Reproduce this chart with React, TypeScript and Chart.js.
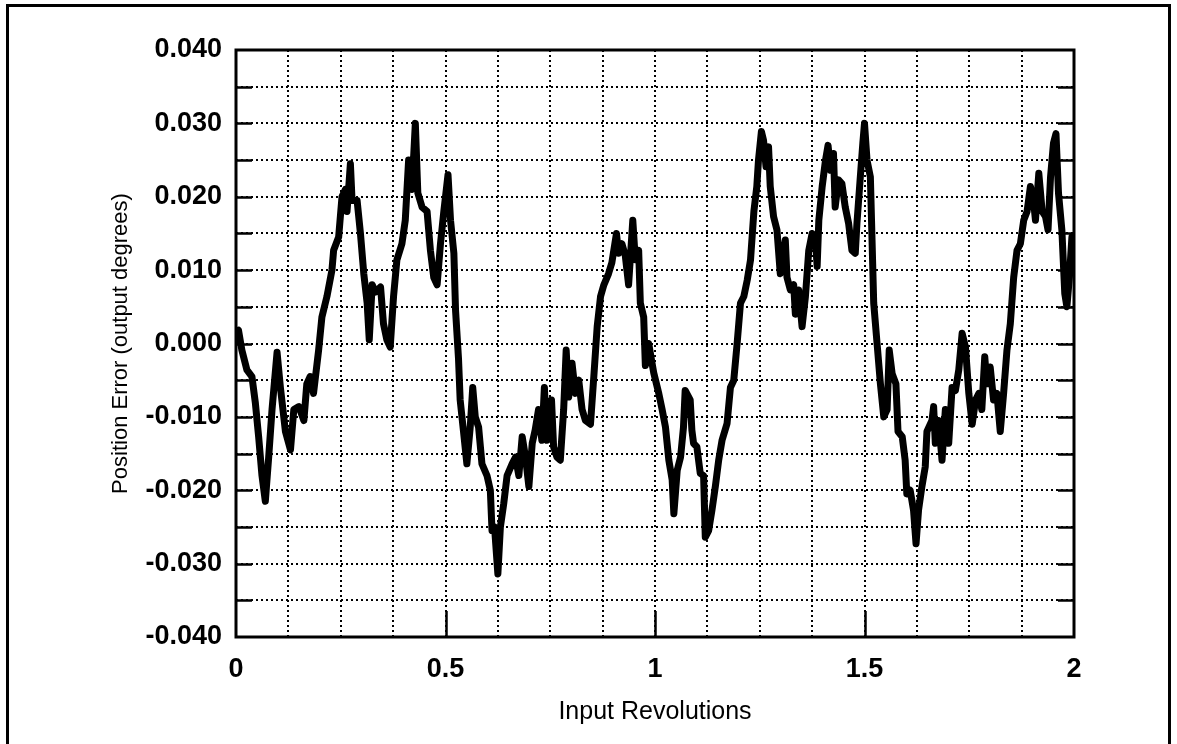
import { useEffect, useRef } from 'react';
import { Chart, registerables } from 'chart.js';

Chart.register(...registerables);

// Input revolutions (x) and position error in output degrees (y)
const revolutions = [
  0.000, 0.006, 0.014, 0.026, 0.038, 0.046, 0.054, 0.062, 0.070, 0.078,
  0.086, 0.098, 0.106, 0.118, 0.130, 0.138, 0.150, 0.162, 0.169, 0.177,
  0.185, 0.197, 0.205, 0.217, 0.229, 0.233, 0.245, 0.253, 0.261, 0.265,
  0.273, 0.277, 0.289, 0.297, 0.305, 0.313, 0.318, 0.325, 0.333,
  0.345, 0.352, 0.360, 0.368, 0.376, 0.384, 0.396, 0.404, 0.412, 0.420,
  0.428, 0.434, 0.444, 0.456, 0.464, 0.472, 0.480, 0.488, 0.496, 0.506,
  0.512, 0.520, 0.524, 0.531, 0.535, 0.543, 0.551, 0.559, 0.565, 0.571,
  0.579, 0.587, 0.599, 0.607, 0.611, 0.617, 0.625, 0.631, 0.639, 0.647,
  0.659, 0.667,
  0.675, 0.683, 0.691, 0.699, 0.707, 0.714, 0.722, 0.730, 0.736, 0.742,
  0.753, 0.758, 0.766, 0.774, 0.782, 0.788, 0.794, 0.802, 0.810, 0.818,
  0.826, 0.834, 0.846, 0.854, 0.862, 0.870, 0.878, 0.889, 0.897, 0.908,
  0.913, 0.921, 0.929, 0.937, 0.947, 0.953, 0.961, 0.965, 0.973, 0.977,
  0.985, 0.993, 0.997,
  1.009, 1.017, 1.025, 1.033, 1.041, 1.045, 1.053, 1.061, 1.068, 1.072,
  1.084, 1.088, 1.092, 1.100, 1.108, 1.116, 1.120, 1.128, 1.136, 1.144,
  1.152, 1.160, 1.172, 1.180, 1.188, 1.196, 1.204, 1.212, 1.220, 1.228,
  1.236, 1.243, 1.247, 1.254, 1.259, 1.265, 1.271, 1.275, 1.283, 1.291,
  1.299, 1.311, 1.315, 1.323, 1.331,
  1.335, 1.343, 1.351, 1.359, 1.367, 1.375, 1.383, 1.387, 1.391, 1.399,
  1.407, 1.413, 1.419, 1.426, 1.430, 1.438, 1.446, 1.454, 1.462, 1.470,
  1.478, 1.482, 1.490, 1.496, 1.500, 1.506, 1.514, 1.522, 1.530, 1.538,
  1.546, 1.554, 1.559, 1.566, 1.575, 1.580, 1.590, 1.597, 1.601, 1.609,
  1.617, 1.623, 1.629, 1.637, 1.645, 1.649, 1.661,
  1.665, 1.669, 1.677, 1.685, 1.693, 1.701, 1.709, 1.717, 1.725, 1.733,
  1.741, 1.749, 1.757, 1.765, 1.773, 1.780, 1.787, 1.792, 1.800, 1.808,
  1.816, 1.824, 1.832, 1.840, 1.848, 1.856, 1.864, 1.872, 1.880, 1.888,
  1.896, 1.904, 1.908, 1.916, 1.924, 1.932, 1.938, 1.944, 1.951, 1.957,
  1.963, 1.971, 1.978, 1.983, 1.989, 1.995, 2.000,
];

const positionError = [
  0.0015, 0.0018, -0.0009, -0.0036, -0.0045, -0.008, -0.0127, -0.018, -0.0215, -0.0155,
  -0.009, -0.0012, -0.006, -0.012, -0.0145, -0.009, -0.0086, -0.0105, -0.0055, -0.0045,
  -0.0068, -0.001, 0.0036, 0.0064, 0.010, 0.0127, 0.0145, 0.020, 0.021, 0.018,
  0.0245, 0.0195, 0.0195, 0.015, 0.0095, 0.0055, 0.0005, 0.008, 0.007,
  0.0077, 0.0027, 0.0005, -0.0005, 0.0064, 0.0114, 0.0136, 0.0168, 0.025, 0.021,
  0.030, 0.0205, 0.0186, 0.018, 0.0127, 0.009, 0.008, 0.0136, 0.018, 0.023,
  0.0168, 0.0123, 0.0045, -0.002, -0.0077, -0.012, -0.0164, -0.0114, -0.006, -0.010,
  -0.0114, -0.0164, -0.018, -0.020, -0.0255, -0.025, -0.0314, -0.025, -0.0218, -0.018,
  -0.0164, -0.0155,
  -0.018, -0.0127, -0.0155, -0.0195, -0.0136, -0.0118, -0.009, -0.0132, -0.006, -0.0132,
  -0.0077, -0.0141, -0.0155, -0.0159, -0.009, -0.0009, -0.0073, -0.0027, -0.0068, -0.005,
  -0.009, -0.0105, -0.011, -0.0045, 0.0023, 0.0064, 0.008, 0.0095, 0.011, 0.015,
  0.0123, 0.0136, 0.012, 0.008, 0.0168, 0.0114, 0.0127, 0.0055, 0.0036, -0.003,
  0.000, -0.0027, -0.004,
  -0.0068, -0.009, -0.0114, -0.0159, -0.0186, -0.0232, -0.0173, -0.0155, -0.0114, -0.0064,
  -0.0077, -0.0118, -0.0136, -0.0141, -0.0177, -0.018, -0.0264, -0.0255, -0.0227, -0.0195,
  -0.0159, -0.0132, -0.0109, -0.006, -0.005, 0.000, 0.0055, 0.0064, 0.0086, 0.0114,
  0.018, 0.0214, 0.025, 0.0289, 0.0277, 0.0241, 0.0268, 0.0214, 0.0173, 0.0155,
  0.0095, 0.0141, 0.009, 0.0073, 0.008,
  0.004, 0.0073, 0.0023, 0.0064, 0.0127, 0.015, 0.0141, 0.0105, 0.0168, 0.0214,
  0.025, 0.027, 0.0236, 0.0259, 0.0186, 0.0223, 0.0218, 0.0186, 0.0164, 0.0127,
  0.0123, 0.0164, 0.0227, 0.0273, 0.030, 0.025, 0.0227, 0.0055, 0.000, -0.0055,
  -0.010, -0.009, -0.0009, -0.0041, -0.0055, -0.012, -0.0127, -0.0159, -0.0205, -0.020,
  -0.0227, -0.0273, -0.0227, -0.0195, -0.0168, -0.012, -0.0105,
  -0.0086, -0.0136, -0.0105, -0.0159, -0.009, -0.0136, -0.006, -0.0064, -0.0036, 0.0014,
  -0.0005, -0.0068, -0.011, -0.0077, -0.0068, -0.009, -0.0018, -0.0055, -0.0032, -0.0077,
  -0.0068, -0.012, -0.0068, -0.0009, 0.0027, 0.009, 0.0127, 0.0136, 0.0168, 0.018,
  0.0214, 0.0191, 0.0168, 0.0232, 0.018, 0.0173, 0.0155, 0.0227, 0.0273, 0.0286,
  0.0205, 0.0155, 0.0068, 0.005, 0.009, 0.0145, 0.0145,
];

const xTickValues = [0, 0.5, 1, 1.5, 2];
const xTickLabels = ['0', '0.5', '1', '1.5', '2'];
const yTickValues = [-0.04, -0.03, -0.02, -0.01, 0, 0.01, 0.02, 0.03, 0.04];
const yTickLabels = ['-0.040', '-0.030', '-0.020', '-0.010', '0.000', '0.010', '0.020', '0.030', '0.040'];

const xTitle = 'Input Revolutions';
const yTitle = 'Position Error (output degrees)';

const FONT = "'Liberation Sans', Arial, Helvetica, sans-serif";

function labelFor(v: number, values: number[], labels: string[]) {
  const i = values.findIndex((t) => Math.abs(t - v) < 1e-9);
  return i >= 0 ? labels[i] : '';
}

const framePlugin = {
  id: 'frameDecor',
  beforeDraw(chart: any) {
    const ctx = chart.ctx;
    ctx.save();
    ctx.fillStyle = '#ffffff';
    ctx.fillRect(0, 0, chart.width, chart.height);
    ctx.strokeStyle = '#000';
    ctx.lineWidth = 3;
    ctx.strokeRect(7.5, 5.5, 1162, 800);
    ctx.restore();
  },
  afterDraw(chart: any) {
    const ctx = chart.ctx;
    const { left, right, top, bottom } = chart.chartArea;
    const ys = chart.scales.y;
    const xs = chart.scales.x;
    ctx.save();
    ctx.strokeStyle = '#000';
    ctx.lineWidth = 2.5;
    ctx.beginPath();
    for (let v = -0.035; v < 0.0351; v += 0.005) {
      const py = Math.round(ys.getPixelForValue(v)) + 0.5;
      ctx.moveTo(left, py);
      ctx.lineTo(left + 16, py);
      ctx.moveTo(right - 16, py);
      ctx.lineTo(right, py);
    }
    for (const v of [0.5, 1, 1.5]) {
      const px = Math.round(xs.getPixelForValue(v)) + 0.5;
      ctx.moveTo(px, bottom);
      ctx.lineTo(px, bottom - 26);
    }
    ctx.stroke();
    ctx.lineWidth = 3;
    ctx.strokeRect(left, top, right - left, bottom - top);
    ctx.restore();
  },
};

export default function App() {
  const canvasRef = useRef<HTMLCanvasElement | null>(null);

  useEffect(() => {
    const canvas = canvasRef.current;
    if (!canvas) return;
    const chart = new Chart(canvas, {
      type: 'line',
      data: {
        datasets: [
          {
            label: 'Position Error',
            data: revolutions.map((x, i) => ({ x, y: positionError[i] })),
            borderColor: '#000',
            borderWidth: 7,
            pointRadius: 0,
            tension: 0,
            borderJoinStyle: 'round',
            borderCapStyle: 'round',
            fill: false,
          },
        ],
      },
      options: {
        animation: false,
        responsive: false,
        devicePixelRatio: 1,
        layout: { padding: { left: 0, top: 50, right: 103, bottom: 0 } },
        plugins: {
          legend: { display: false },
          tooltip: { enabled: false },
          title: { display: false },
        },
        scales: {
          x: {
            type: 'linear',
            min: 0,
            max: 2,
            afterFit: (s: any) => { s.height = 107; },
            afterBuildTicks: (s: any) => {
              const t = [];
              for (let i = 0; i <= 16; i++) t.push({ value: i * 0.125 });
              s.ticks = t;
            },
            grid: { color: '#000', lineWidth: 2, drawTicks: false },
            border: { display: false, dash: [2, 3] },
            ticks: {
              autoSkip: false,
              maxRotation: 0,
              padding: 16,
              color: '#000',
              font: { family: FONT, size: 27, weight: 'bold' },
              callback: (v: any) => labelFor(Number(v), xTickValues, xTickLabels),
            },
            title: {
              display: true,
              text: xTitle,
              color: '#000',
              font: { family: FONT, size: 25 },
              padding: { top: 0, bottom: 17 },
            },
          },
          y: {
            type: 'linear',
            min: -0.04,
            max: 0.04,
            afterFit: (s: any) => { s.width = 236; },
            afterBuildTicks: (s: any) => {
              const t = [];
              for (let i = 0; i <= 16; i++) t.push({ value: -0.04 + i * 0.005 });
              s.ticks = t;
            },
            grid: { color: '#000', lineWidth: 2, drawTicks: false },
            border: { display: false, dash: [2, 3] },
            ticks: {
              autoSkip: false,
              padding: 14,
              color: '#000',
              font: { family: FONT, size: 27, weight: 'bold' },
              callback: (v: any) => labelFor(Number(v), yTickValues, yTickLabels),
            },
            title: {
              display: true,
              text: yTitle,
              color: '#000',
              font: { family: FONT, size: 22 },
              padding: { top: 108, bottom: 0 },
            },
          },
        },
      },
      plugins: [framePlugin],
    });
    return () => chart.destroy();
  }, []);

  return (
    <div style={{ position: 'fixed', left: 0, top: 0, width: 1177, height: 744, background: '#fff' }}>
      <canvas ref={canvasRef} width={1177} height={744} style={{ display: 'block', width: 1177, height: 744 }} />
    </div>
  );
}
